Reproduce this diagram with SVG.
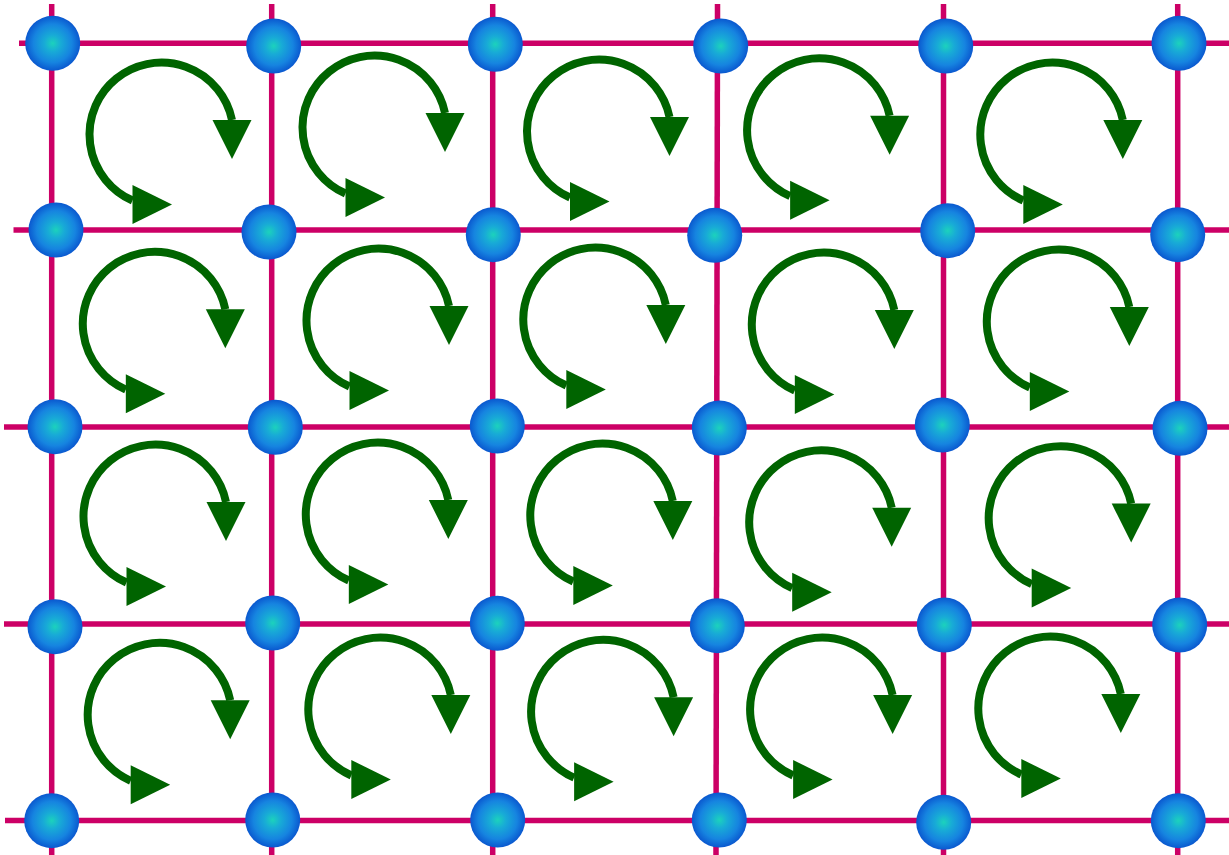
<svg xmlns="http://www.w3.org/2000/svg" xmlns:xlink="http://www.w3.org/1999/xlink" width="1229" height="855" viewBox="0 0 1229 855">
<style>
.grid line{stroke:#cc0066;stroke-width:5.5;fill:none}
.node circle{fill:url(#ball)}
.arc{fill:none;stroke:#006400;stroke-width:8}
.head{fill:#006400}
</style>
<defs>
<radialGradient id="ball" cx="50%" cy="50%" r="50%">
<stop offset="0" stop-color="#1cd2bc"/>
<stop offset="0.3" stop-color="#18abd6"/>
<stop offset="0.7" stop-color="#1684e0"/>
<stop offset="1" stop-color="#0a58cf"/>
</radialGradient>
<g id="spin">
<path class="arc" d="M -29 66 A 72 72 0 1 1 70.5 -14.5"/>
<polygon class="head" points="51,-14.5 90,-14.5 70.5,24.5"/>
<polygon class="head" points="-29,50.5 -29,89.5 10.5,70"/>
</g>
</defs>
<rect width="1229" height="855" fill="#ffffff"/>
<g id="connectors" class="grid">
<line x1="19" y1="43.3" x2="1229" y2="43.3"/>
<line x1="13.5" y1="230" x2="1229" y2="230"/>
<line x1="4" y1="427" x2="1229" y2="427"/>
<line x1="4" y1="624" x2="1229" y2="624"/>
<line x1="5" y1="820.5" x2="1229" y2="820.5"/>
<line x1="51.7" y1="4" x2="51.7" y2="855"/>
<line x1="271.7" y1="4" x2="271.7" y2="855"/>
<line x1="492.7" y1="4" x2="492.7" y2="855"/>
<line x1="717.5" y1="4" x2="716" y2="855"/>
<line x1="943.5" y1="4" x2="943.5" y2="855"/>
<line x1="1177.7" y1="4" x2="1177.7" y2="855"/>
</g>
<g id="circulations">
<use id="c00" xlink:href="#spin" href="#spin" transform="translate(161.5,134.5)"/>
<use id="c01" xlink:href="#spin" href="#spin" transform="translate(374.5,127.5)"/>
<use id="c02" xlink:href="#spin" href="#spin" transform="translate(599,131.5)"/>
<use id="c03" xlink:href="#spin" href="#spin" transform="translate(819.1,130.2)"/>
<use id="c04" xlink:href="#spin" href="#spin" transform="translate(1052.3,134.5)"/>
<use id="c10" xlink:href="#spin" href="#spin" transform="translate(154.8,323.7)"/>
<use id="c11" xlink:href="#spin" href="#spin" transform="translate(378.5,320.5)"/>
<use id="c12" xlink:href="#spin" href="#spin" transform="translate(595.3,319.5)"/>
<use id="c13" xlink:href="#spin" href="#spin" transform="translate(823.8,324.5)"/>
<use id="c14" xlink:href="#spin" href="#spin" transform="translate(1058.8,321.5)"/>
<use id="c20" xlink:href="#spin" href="#spin" transform="translate(155.5,516.5)"/>
<use id="c21" xlink:href="#spin" href="#spin" transform="translate(377.8,514.5)"/>
<use id="c22" xlink:href="#spin" href="#spin" transform="translate(602.3,515.5)"/>
<use id="c23" xlink:href="#spin" href="#spin" transform="translate(821.2,522.2)"/>
<use id="c24" xlink:href="#spin" href="#spin" transform="translate(1060.7,518.1)"/>
<use id="c30" xlink:href="#spin" href="#spin" transform="translate(159.7,714.8)"/>
<use id="c31" xlink:href="#spin" href="#spin" transform="translate(380.3,709.5)"/>
<use id="c32" xlink:href="#spin" href="#spin" transform="translate(603.1,711.7)"/>
<use id="c33" xlink:href="#spin" href="#spin" transform="translate(822.1,709.5)"/>
<use id="c34" xlink:href="#spin" href="#spin" transform="translate(1050.3,708.5)"/>
</g>
<g id="nodes">
<g id="n00" class="node"><circle cx="52.7" cy="43.3" r="27.5"/></g>
<g id="n01" class="node"><circle cx="273.7" cy="46" r="27.5"/></g>
<g id="n02" class="node"><circle cx="495.3" cy="44.3" r="27.5"/></g>
<g id="n03" class="node"><circle cx="720.7" cy="46" r="27.5"/></g>
<g id="n04" class="node"><circle cx="945.7" cy="46" r="27.5"/></g>
<g id="n05" class="node"><circle cx="1179" cy="43.3" r="27.5"/></g>
<g id="n10" class="node"><circle cx="56" cy="230" r="27.5"/></g>
<g id="n11" class="node"><circle cx="269" cy="232" r="27.5"/></g>
<g id="n12" class="node"><circle cx="493.3" cy="234.7" r="27.5"/></g>
<g id="n13" class="node"><circle cx="714.7" cy="235.3" r="27.5"/></g>
<g id="n14" class="node"><circle cx="947.7" cy="230.7" r="27.5"/></g>
<g id="n15" class="node"><circle cx="1177.7" cy="234.7" r="27.5"/></g>
<g id="n20" class="node"><circle cx="55" cy="426.7" r="27.5"/></g>
<g id="n21" class="node"><circle cx="275.3" cy="427.3" r="27.5"/></g>
<g id="n22" class="node"><circle cx="497.3" cy="426" r="27.5"/></g>
<g id="n23" class="node"><circle cx="719.3" cy="428" r="27.5"/></g>
<g id="n24" class="node"><circle cx="942.3" cy="425" r="27.5"/></g>
<g id="n25" class="node"><circle cx="1180" cy="428.3" r="27.5"/></g>
<g id="n30" class="node"><circle cx="55" cy="626.7" r="27.5"/></g>
<g id="n31" class="node"><circle cx="272.7" cy="623" r="27.5"/></g>
<g id="n32" class="node"><circle cx="497.3" cy="623.3" r="27.5"/></g>
<g id="n33" class="node"><circle cx="717.3" cy="625.7" r="27.5"/></g>
<g id="n34" class="node"><circle cx="944.3" cy="625" r="27.5"/></g>
<g id="n35" class="node"><circle cx="1179.7" cy="625" r="27.5"/></g>
<g id="n40" class="node"><circle cx="51.7" cy="820.7" r="27.5"/></g>
<g id="n41" class="node"><circle cx="272.7" cy="820" r="27.5"/></g>
<g id="n42" class="node"><circle cx="497.7" cy="820" r="27.5"/></g>
<g id="n43" class="node"><circle cx="719.3" cy="820" r="27.5"/></g>
<g id="n44" class="node"><circle cx="943.7" cy="822.3" r="27.5"/></g>
<g id="n45" class="node"><circle cx="1178.3" cy="820.7" r="27.5"/></g>
</g>
</svg>
